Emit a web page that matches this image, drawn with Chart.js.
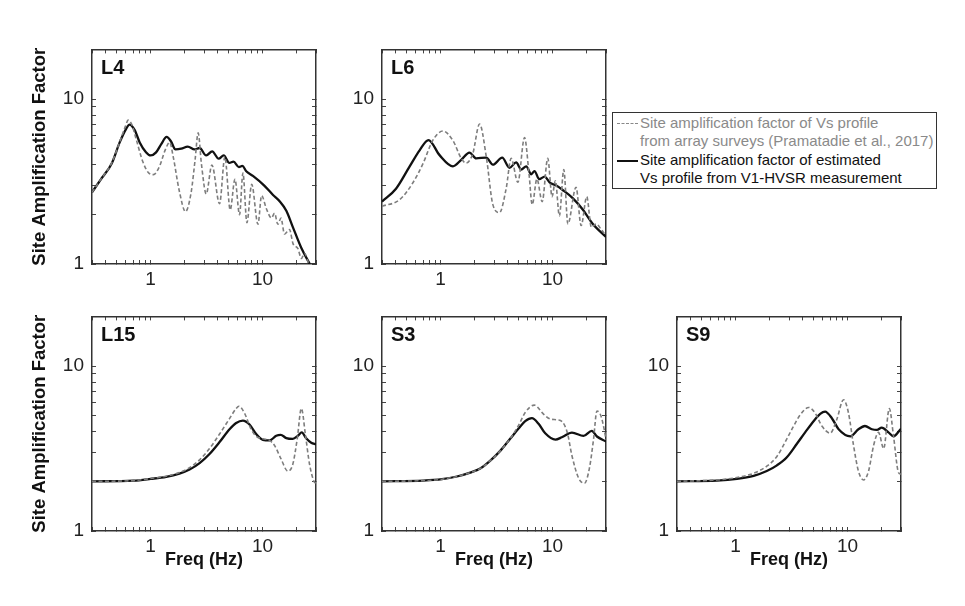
<!DOCTYPE html>
<html lang="en">
<head>
<meta charset="UTF-8">
<title>Site amplification factor</title>
<script src="https://cdn.jsdelivr.net/npm/chart.js"></script>
<style>
  body { margin: 0; background: #fff; }
  #page { position: relative; width: 965px; height: 606px; overflow: hidden;
          font-family: "Liberation Sans", Arial, sans-serif; }
  #page canvas { position: absolute; }
  .tag { position: absolute; font-size: 20px; line-height: 20px; font-weight: bold; color: #111; z-index: 3; }
  #legend { position: absolute; left: 612px; top: 112px; width: 323px; padding-top: 1px;
            border: 1.5px solid #333; background: #fff; font-size: 15px; line-height: 18.4px; z-index: 4; }
  #legend .row { position: relative; padding-left: 27px; white-space: nowrap; color: #111; }
  #legend .gray { color: #8a8a8a; }
  #legend .sample { position: absolute; left: 4px; top: 9px; width: 21px; height: 0; }
  #legend .dash { border-top: 1.5px dashed #888; }
  #legend .solid { border-top: 2px solid #111; }
</style>
</head>
<body>
<div id="page">
  <div id="legend">
    <div class="row gray"><span class="sample dash"></span>Site amplification factor of Vs profile</div>
    <div class="row gray">from array surveys (Pramatadie et al., 2017)</div>
    <div class="row"><span class="sample solid"></span>Site amplification factor of estimated</div>
    <div class="row">Vs profile from V1-HVSR measurement</div>
  </div>
</div>
<script>
// axis ticks
const xTickVals = [0.3, 0.4, 0.5, 0.6, 0.7, 0.8, 0.9, 1, 2, 3, 4, 5, 6, 7, 8, 9, 10, 20, 30];
const yTickVals = [1, 2, 3, 4, 5, 6, 7, 8, 9, 10, 20];
const xLabelVals = [1, 10];
const yLabelVals = [1, 10];

// L4
const l4SolidF = [0.3, 0.36, 0.45, 0.53, 0.6, 0.65, 0.72, 0.8, 0.91, 1.0, 1.12, 1.25, 1.39, 1.52, 1.67, 1.88, 2.15, 2.47, 2.74, 3.14, 3.55, 4.05, 4.5, 5.05, 5.5, 6.15, 6.6, 7.15, 8.2, 10.3, 12.4, 14.2, 16.3, 18.6, 22.2, 26.4];
const l4SolidA = [2.72, 3.26, 4.07, 5.46, 6.53, 7.0, 6.5, 5.46, 4.76, 4.55, 4.75, 5.35, 5.9, 5.55, 4.95, 5.0, 5.15, 4.95, 5.05, 4.55, 4.82, 4.35, 4.55, 4.1, 4.17, 3.87, 3.93, 3.65, 3.42, 3.0, 2.62, 2.4, 2.1, 1.68, 1.25, 1.0];
const l4DashF = [0.3, 0.36, 0.45, 0.53, 0.6, 0.63, 0.68, 0.75, 0.85, 0.95, 1.06, 1.2, 1.35, 1.48, 1.6, 1.8, 2.05, 2.3, 2.5, 2.66, 2.85, 3.14, 3.53, 4.13, 4.61, 5.14, 5.67, 6.23, 6.68, 7.25, 8.0, 9.1, 9.8, 10.8, 12.0, 12.8, 13.7, 14.6, 15.7, 17.4, 18.7, 20.7, 22.2, 23.7, 25.9];
const l4DashA = [2.72, 3.26, 4.1, 5.5, 6.9, 7.45, 7.0, 5.6, 4.2, 3.6, 3.48, 3.9, 4.9, 5.46, 4.4, 2.8, 2.08, 2.7, 4.3, 6.24, 4.0, 2.66, 3.98, 2.32, 4.46, 2.13, 3.26, 1.99, 3.56, 1.78, 3.04, 1.74, 2.6, 2.17, 1.9, 2.03, 1.74, 1.9, 1.52, 1.62, 1.33, 1.24, 1.08, 1.16, 1.0];

// L6
const l6SolidF = [0.3, 0.4, 0.53, 0.65, 0.78, 0.98, 1.29, 1.53, 1.81, 2.08, 2.56, 2.93, 3.55, 4.13, 4.73, 5.25, 5.82, 6.45, 6.9, 7.6, 8.5, 9.4, 10.8, 12.4, 15.2, 18.6, 22.9, 30];
const l6SolidA = [2.39, 2.86, 3.91, 4.89, 5.64, 4.57, 3.91, 4.28, 4.74, 4.37, 4.42, 4.0, 4.41, 3.83, 4.13, 3.74, 3.91, 3.5, 3.66, 3.27, 3.39, 3.13, 2.99, 2.8, 2.5, 2.14, 1.75, 1.46];
const l6DashF = [0.3, 0.43, 0.57, 0.7, 0.85, 1.05, 1.29, 1.53, 1.69, 1.94, 2.23, 2.56, 2.93, 3.36, 3.85, 4.27, 4.9, 5.62, 6.15, 6.58, 7.25, 8.08, 9.06, 9.9, 10.6, 11.5, 12.6, 13.7, 16.2, 18, 20.2, 22.2, 24.5, 27, 29.6];
const l6DashA = [2.24, 2.45, 3.13, 4.09, 5.6, 6.4, 5.6, 4.37, 4.09, 4.67, 7.06, 4.47, 2.29, 2.05, 2.86, 4.37, 3.13, 5.85, 3.58, 2.29, 3.27, 2.39, 4.37, 2.56, 3.2, 1.96, 3.74, 1.75, 2.92, 1.71, 2.56, 1.67, 1.75, 1.63, 1.5];

// L15
const l15SolidF = [0.3, 0.7, 1.0, 1.38, 1.81, 2.23, 2.74, 3.36, 4.13, 5.07, 5.81, 6.67, 7.65, 8.78, 10.06, 11.55, 13.25, 14.5, 16.3, 18.6, 20.7, 22.4, 24.5, 27.2, 30];
const l15SolidA = [2.0, 2.02, 2.07, 2.13, 2.23, 2.36, 2.58, 2.93, 3.46, 4.14, 4.52, 4.67, 4.42, 3.87, 3.57, 3.54, 3.78, 3.83, 3.66, 3.62, 3.78, 3.96, 3.65, 3.43, 3.35];
const l15DashF = [0.3, 0.7, 1.0, 1.38, 1.81, 2.23, 2.74, 3.36, 4.13, 5.07, 5.81, 6.15, 6.9, 7.9, 8.78, 10.06, 11.55, 12.8, 14.5, 16.8, 18.6, 20.4, 22.2, 24.2, 26.3, 29, 30];
const l15DashA = [2.0, 2.02, 2.08, 2.15, 2.26, 2.42, 2.7, 3.16, 3.87, 4.8, 5.53, 5.71, 5.18, 4.14, 3.75, 3.62, 3.54, 3.3, 2.77, 2.31, 2.53, 3.62, 5.53, 3.78, 2.53, 1.98, 1.95];

// S3
const s3SolidF = [0.3, 0.7, 1.03, 1.4, 1.84, 2.26, 2.78, 3.41, 4.18, 4.97, 5.7, 6.54, 7.5, 8.6, 10.6, 12.1, 14.9, 18.9, 22.4, 24.9, 30];
const s3SolidA = [2.0, 2.02, 2.06, 2.14, 2.26, 2.39, 2.67, 3.06, 3.62, 4.18, 4.63, 4.83, 4.47, 3.91, 3.58, 3.7, 3.95, 3.77, 4.05, 3.74, 3.49];
const s3DashF = [0.3, 0.7, 1.03, 1.4, 1.84, 2.26, 2.78, 3.41, 4.18, 4.97, 5.7, 6.87, 8.3, 9.5, 10.9, 12.3, 13.6, 14.9, 17.1, 19.3, 21.3, 23.2, 24.9, 27, 29, 30];
const s3DashA = [2.0, 2.02, 2.06, 2.14, 2.26, 2.39, 2.67, 3.06, 3.62, 4.37, 5.23, 5.8, 5.11, 4.78, 4.72, 4.57, 3.9, 2.86, 2.09, 1.95, 2.39, 3.58, 5.34, 5.0, 4.08, 3.58];

// S9
const s9SolidF = [0.3, 0.68, 1.03, 1.45, 1.9, 2.34, 2.87, 3.53, 4.18, 4.97, 5.7, 6.3, 7.24, 8.32, 10.6, 12.5, 14.3, 16.5, 18.3, 20.2, 23.2, 25.7, 30];
const s9SolidA = [2.0, 2.02, 2.07, 2.16, 2.31, 2.5, 2.8, 3.38, 3.96, 4.63, 5.13, 5.29, 4.83, 4.14, 3.75, 4.14, 4.33, 4.14, 4.1, 4.23, 3.96, 3.75, 4.17];
const s9DashF = [0.3, 0.68, 1.03, 1.45, 1.9, 2.34, 2.87, 3.3, 3.78, 4.49, 5.14, 5.9, 7.0, 8.0, 9.2, 10.2, 11.3, 12.5, 13.9, 15.4, 17.1, 18.9, 21.0, 23.6, 25.7, 28.5, 30];
const s9DashA = [2.0, 2.04, 2.11, 2.24, 2.47, 2.83, 3.62, 4.33, 5.06, 5.61, 5.18, 4.33, 3.92, 4.73, 6.25, 5.18, 3.31, 2.31, 2.04, 2.31, 3.31, 3.96, 3.16, 5.53, 3.78, 2.26, 2.21];

// layout of each canvas around its plot box (plot box is 224 x 224)
const AXW = 92, AXH = 50, PADT = 14, PADR = 12, BOX = 224;

const panels = [
  { tag: 'L4',  left: 92,  top: 40,  yTitle: true,  xTitle: false, sf: l4SolidF,  sa: l4SolidA,  df: l4DashF,  da: l4DashA },
  { tag: 'L6',  left: 382, top: 40,  yTitle: false, xTitle: false, sf: l6SolidF,  sa: l6SolidA,  df: l6DashF,  da: l6DashA },
  { tag: 'L15', left: 92,  top: 307, yTitle: true,  xTitle: true,  sf: l15SolidF, sa: l15SolidA, df: l15DashF, da: l15DashA },
  { tag: 'S3',  left: 382, top: 307, yTitle: false, xTitle: true,  sf: s3SolidF,  sa: s3SolidA,  df: s3DashF,  da: s3DashA },
  { tag: 'S9',  left: 677, top: 307, yTitle: false, xTitle: true,  sf: s9SolidF,  sa: s9SolidA,  df: s9DashF,  da: s9DashA }
];

Chart.defaults.font.family = '"Liberation Sans", Arial, sans-serif';
Chart.defaults.color = '#222';

const page = document.getElementById('page');

function pts(f, a) {
  return f.map((v, i) => ({ x: v, y: a[i] }));
}

const gridOpts = { drawOnChartArea: false, drawTicks: true, tickLength: -4, tickColor: '#444', tickWidth: 1 };
const borderOpts = { display: true, color: '#333', width: 1.5 };

function makePanel(p) {
  const cv = document.createElement('canvas');
  cv.width = AXW + BOX + PADR;
  cv.height = PADT + BOX + AXH;
  cv.style.left = (p.left - AXW) + 'px';
  cv.style.top = (p.top - PADT) + 'px';
  page.appendChild(cv);

  const tag = document.createElement('div');
  tag.className = 'tag';
  tag.textContent = p.tag;
  tag.style.left = (p.left + 9) + 'px';
  tag.style.top = (p.top + 17) + 'px';
  page.appendChild(tag);

  new Chart(cv, {
    type: 'line',
    data: {
      datasets: [
        { data: pts(p.df, p.da), borderColor: '#7d7d7d', borderWidth: 1.6, borderDash: [4, 2.5],
          pointRadius: 0, fill: false, cubicInterpolationMode: 'monotone' },
        { data: pts(p.sf, p.sa), borderColor: '#111', borderWidth: 2.3,
          pointRadius: 0, fill: false, cubicInterpolationMode: 'monotone' }
      ]
    },
    options: {
      responsive: false,
      animation: false,
      devicePixelRatio: 1,
      layout: { padding: { left: 0, top: PADT, right: PADR, bottom: 0 } },
      plugins: { legend: { display: false }, tooltip: { enabled: false } },
      scales: {
        x: {
          type: 'logarithmic', position: 'bottom', min: 0.3, max: 30, display: true,
          afterBuildTicks: s => { s.ticks = xTickVals.map(v => ({ value: v })); },
          afterFit: s => { s.height = AXH; },
          ticks: { autoSkip: false, maxRotation: 0, padding: 8, font: { size: 19 }, color: '#222',
                   callback: v => xLabelVals.includes(v) ? String(v) : '' },
          grid: gridOpts, border: borderOpts,
          title: { display: p.xTitle, text: 'Freq (Hz)', color: '#111',
                   font: { size: 18, weight: 'bold' }, padding: { top: 0, bottom: 10 } }
        },
        xTop: {
          type: 'logarithmic', position: 'top', min: 0.3, max: 30, display: true,
          afterBuildTicks: s => { s.ticks = xTickVals.map(v => ({ value: v })); },
          afterFit: s => { s.height = 0; },
          ticks: { display: false, autoSkip: false },
          grid: gridOpts, border: borderOpts
        },
        y: {
          type: 'logarithmic', position: 'left', min: 1, max: 20, display: true,
          afterBuildTicks: s => { s.ticks = yTickVals.map(v => ({ value: v })); },
          afterFit: s => { s.width = AXW; },
          ticks: { autoSkip: false, padding: 12, font: { size: 19 }, color: '#222',
                   callback: v => yLabelVals.includes(v) ? String(v) : '' },
          grid: gridOpts, border: borderOpts,
          title: { display: p.yTitle, text: 'Site Amplification Factor', color: '#111',
                   font: { size: 18.5, weight: 'bold' }, padding: { top: 29, bottom: 0 } }
        },
        yRight: {
          type: 'logarithmic', position: 'right', min: 1, max: 20, display: true,
          afterBuildTicks: s => { s.ticks = yTickVals.map(v => ({ value: v })); },
          afterFit: s => { s.width = 0; },
          ticks: { display: false, autoSkip: false },
          grid: gridOpts, border: borderOpts
        }
      }
    }
  });
}

panels.forEach(makePanel);
</script>
</body>
</html>
